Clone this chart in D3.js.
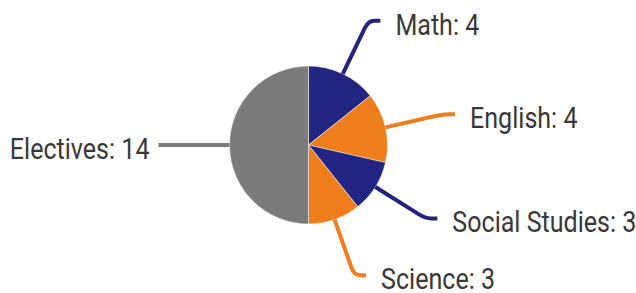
<!DOCTYPE html>
<html>
<head>
<meta charset="utf-8">
<script src="https://cdn.jsdelivr.net/npm/d3@7"></script>
<style>
  html, body { margin: 0; padding: 0; background: #ffffff; }
  svg { display: block; }
</style>
</head>
<body>
<svg id="chart" width="636" height="293"></svg>
<script>
const categories = ["Math", "English", "Social Studies", "Science", "Electives"];
const values = [4, 4, 3, 3, 14];
const colors = ["#212581", "#ee7d1b", "#212581", "#ee7d1b", "#7b7b7b"];

const W = 636, H = 293;
const cx = 308.5, cy = 145, R = 79;
const outerR = 138, hook = 12;

const svg = d3.select("#chart");
const g = svg.append("g").attr("transform", `translate(${cx},${cy})`);

const data = categories.map((c, i) => ({ label: c, value: values[i], color: colors[i] }));
const pie = d3.pie().value(d => d.value).sort(null);
const arcs = pie(data);
const arc = d3.arc().innerRadius(0).outerRadius(R);

g.selectAll("path.slice").data(arcs).enter().append("path")
  .attr("class", "slice")
  .attr("d", arc)
  .attr("fill", d => d.data.color)
  .attr("stroke", "#ffffff")
  .attr("stroke-width", 0.5);

function pt(a, r) { return [r * Math.sin(a), -r * Math.cos(a)]; }

arcs.forEach(d => {
  const a = (d.startAngle + d.endAngle) / 2;
  const p0 = pt(a, R);
  const p1 = pt(a, outerR);
  const right = Math.sin(a) >= 0;
  const dir = right ? 1 : -1;
  const p2 = [p1[0] + dir * hook, p1[1]];
  const path = d3.path();
  path.moveTo(p0[0], p0[1]);
  // approach elbow, then round into horizontal
  const back = pt(a, outerR - 8);
  const isHorizontal = Math.abs(Math.cos(a)) < 1e-6;
  if (isHorizontal) {
    path.lineTo(p2[0], p2[1]);
  } else {
    path.lineTo(back[0], back[1]);
    path.quadraticCurveTo(p1[0], p1[1], p1[0] + dir * 6, p1[1]);
    path.lineTo(p2[0], p2[1]);
  }
  g.append("path")
    .attr("d", path.toString())
    .attr("fill", "none")
    .attr("stroke", d.data.color)
    .attr("stroke-width", 4)
    .attr("stroke-linecap", "butt")
    .attr("stroke-linejoin", "round");

  const tx = p2[0] + dir * (right ? 15 : 9);
  const ty = p2[1] + 14;
  g.append("text")
    .attr("transform", `translate(${tx},${ty}) scale(0.85,1)`)
    .attr("text-anchor", right ? "start" : "end")
    .attr("font-family", "Roboto, 'Open Sans', sans-serif")
    .attr("font-size", 29.5)
    .attr("fill", "#383838")
    .text(`${d.data.label}: ${d.data.value}`);
});
</script>
</body>
</html>
